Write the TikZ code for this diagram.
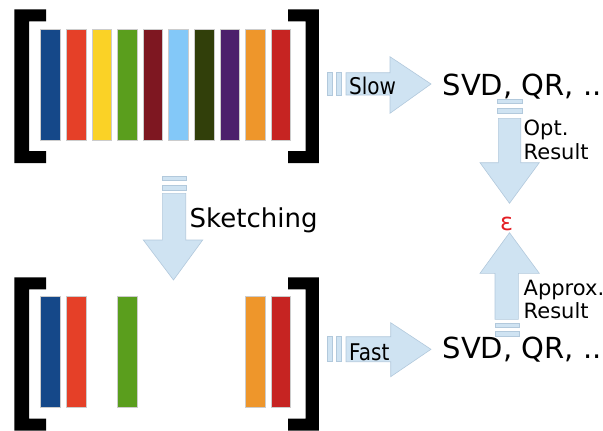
\documentclass[tikz,border=0pt]{standalone}
\usepackage{fontspec}
\setmainfont{DejaVu Sans}
\newfontfamily\narrowfont[FakeStretch=0.87]{DejaVu Sans}
\definecolor{c1}{HTML}{154889}
\definecolor{c2}{HTML}{E54028}
\definecolor{c3}{HTML}{FAD226}
\definecolor{c4}{HTML}{5A9E1D}
\definecolor{c5}{HTML}{7E1721}
\definecolor{c6}{HTML}{83C8F8}
\definecolor{c7}{HTML}{313F0A}
\definecolor{c8}{HTML}{4C1F6C}
\definecolor{c9}{HTML}{EE962B}
\definecolor{c10}{HTML}{C62422}
\definecolor{arrfill}{HTML}{CFE3F2}
\definecolor{arrline}{HTML}{B2C9DC}
\definecolor{epsred}{HTML}{E31E24}
\tikzset{
  bracket/.style={fill=black},
  colbar/.style={draw=black!20, line width=0.5pt},
  blockarrow/.style={fill=arrfill, draw=arrline, line width=0.6pt},
  bigtext/.style={font=\fontsize{29}{34}\selectfont, inner sep=0pt},
  midtext/.style={font=\fontsize{26}{32}\selectfont, inner sep=0pt},
  speedtext/.style={font=\narrowfont\fontsize{23}{28}\selectfont, inner sep=0pt},
  smalltext/.style={font=\fontsize{21}{24}\selectfont, inner sep=0pt, align=left},
}
\begin{document}
\begin{tikzpicture}[x=1pt, y=-1pt]
\useasboundingbox (0,0) rectangle (603,431);
% ---------- brackets ----------
\foreach \t/\b in {9.3/163, 277.3/430.7}{
  \fill[bracket] (46,\t) -- (14.3,\t) -- (14.3,\b) -- (46,\b) -- (46,\b-12) -- (29,\b-12) -- (29,\t+12) -- (46,\t+12) -- cycle;
  \fill[bracket] (288,\t) -- (318.8,\t) -- (318.8,\b) -- (288,\b) -- (288,\b-12) -- (305.7,\b-12) -- (305.7,\t+12) -- (288,\t+12) -- cycle;
}
% ---------- top columns ----------
\foreach \i/\c in {0/c1,1/c2,2/c3,3/c4,4/c5,5/c6,6/c7,7/c8,8/c9,9/c10}{
  \filldraw[colbar, fill=\c] (40.7+25.6*\i, 29.3) rectangle (60.3+25.6*\i, 140);
}
% ---------- bottom columns ----------
\foreach \i/\c in {0/c1,1/c2,3/c4,8/c9,9/c10}{
  \filldraw[colbar, fill=\c] (40.7+25.6*\i, 296.7) rectangle (60.3+25.6*\i, 407.3);
}
% ---------- Slow arrow ----------
\filldraw[blockarrow] (327.3,72.7) rectangle (332,95);
\filldraw[blockarrow] (336.7,72.7) rectangle (341.7,95);
\filldraw[blockarrow] (346,72.7) -- (390,72.7) -- (390,56.7) -- (431,84) -- (390,113.3) -- (390,95) -- (346,95) -- cycle;
\node[speedtext, anchor=base west] (slow) at (349,94) {Slow};
% ---------- Fast arrow ----------
\filldraw[blockarrow] (327.3,336.7) rectangle (332,361.7);
\filldraw[blockarrow] (336.7,336.7) rectangle (341.7,361.7);
\filldraw[blockarrow] (346,336.7) -- (390.7,336.7) -- (390.7,322.7) -- (431,349.3) -- (390.7,376.7) -- (390.7,361.7) -- (346,361.7) -- cycle;
\node[speedtext, anchor=base west] (fast) at (349,360.5) {Fast};
% ---------- SVD texts ----------
\node[bigtext, anchor=base west] (svdtop) at (442.5,95) {SVD, QR, ..};
\node[bigtext, anchor=base west] (svdbot) at (442.5,358.3) {SVD, QR, ..};
% ---------- Opt. result arrow (down) ----------
\filldraw[blockarrow] (497.3,99.3) rectangle (522.5,103.5);
\filldraw[blockarrow] (497.3,108.3) rectangle (522.5,113);
\filldraw[blockarrow] (498.3,118.3) -- (520.7,118.3) -- (520.7,162.7) -- (539.3,162.7) -- (509.5,203.3) -- (480,162.7) -- (498.3,162.7) -- cycle;
\node[smalltext, anchor=base west] (opt) at (523.5,135) {Opt.};
\node[smalltext, anchor=base west] (optres) at (523.5,159) {Result};
% ---------- epsilon ----------
\node[font=\fontsize{24}{28}\selectfont, text=epsred, inner sep=0pt, anchor=base] (eps) at (506.5,230) {ε};
% ---------- Approx. result arrow (up) ----------
\filldraw[blockarrow] (495,323.3) rectangle (519,327.7);
\filldraw[blockarrow] (495,331.7) rectangle (519,336.3);
\filldraw[blockarrow] (495,319.3) -- (495,273.3) -- (480,273.3) -- (509.5,232.7) -- (539.3,273.3) -- (518.3,273.3) -- (518.3,319.3) -- cycle;
\node[smalltext, anchor=base west] (approx) at (523.5,295) {Approx.};
\node[smalltext, anchor=base west] (appres) at (523.5,318.3) {Result};
% ---------- Sketching arrow (down) ----------
\filldraw[blockarrow] (162.3,176) rectangle (186.7,180.7);
\filldraw[blockarrow] (162.3,185) rectangle (186.7,190);
\filldraw[blockarrow] (162.3,193.3) -- (185.7,193.3) -- (185.7,240) -- (202.7,240) -- (173.5,280) -- (143.3,240) -- (162.3,240) -- cycle;
\node[midtext, anchor=base west] (sketch) at (189.5,227.3) {Sketching};
\end{tikzpicture}
\end{document}
